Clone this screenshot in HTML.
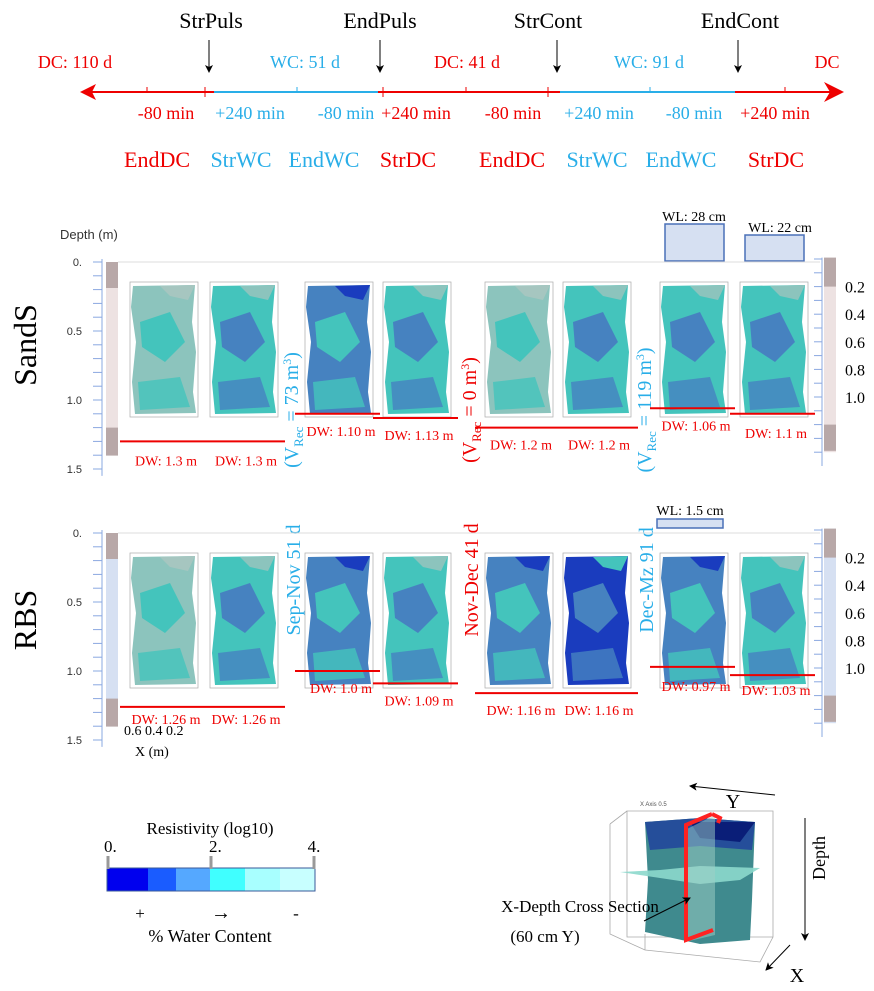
<!DOCTYPE html>
<html><head><meta charset="utf-8"><style>
html,body{margin:0;padding:0;background:#fff}
svg{display:block}
text{font-family:"Liberation Serif",serif}
.sans{font-family:"Liberation Sans",sans-serif}
</style></head><body>
<svg id="fig" width="874" height="991" viewBox="0 0 874 991" xmlns="http://www.w3.org/2000/svg">
<defs>
<marker id="ah" markerWidth="8" markerHeight="8" refX="7" refY="4" orient="auto"><path d="M0,0 L8,4 L0,8 L2,4 Z" fill="#000"/></marker>
<marker id="ahr" markerWidth="10" markerHeight="10" refX="9" refY="5" orient="auto"><path d="M0,0 L10,5 L0,10 L3,5 Z" fill="#e00"/></marker>
</defs>
<g>
<g font-size="22">
<text x="211" y="28" text-anchor="middle">StrPuls</text>
<text x="380" y="28" text-anchor="middle">EndPuls</text>
<text x="548" y="28" text-anchor="middle">StrCont</text>
<text x="740" y="28" text-anchor="middle">EndCont</text>
</g>
<g stroke="#000" stroke-width="1">
<line x1="209" y1="40" x2="209" y2="72" marker-end="url(#ah)"/>
<line x1="380" y1="40" x2="380" y2="72" marker-end="url(#ah)"/>
<line x1="557" y1="40" x2="557" y2="72" marker-end="url(#ah)"/>
<line x1="738" y1="40" x2="738" y2="72" marker-end="url(#ah)"/>
</g>
<line x1="90" y1="92" x2="842" y2="92" stroke="#e00" stroke-width="2" marker-end="url(#ahr)"/>
<path d="M80,92 L96,84 L92,92 L96,100 Z" fill="#e00"/>
<line x1="214" y1="92" x2="378" y2="92" stroke="#29aee8" stroke-width="2"/>
<line x1="560" y1="92" x2="735" y2="92" stroke="#29aee8" stroke-width="2"/>
<g stroke="#e00" stroke-width="1"><line x1="147" y1="87" x2="147" y2="92"/><line x1="205" y1="87" x2="205" y2="97"/><line x1="383" y1="87" x2="383" y2="97"/><line x1="548" y1="87" x2="548" y2="97"/><line x1="785" y1="87" x2="785" y2="92"/><line x1="466" y1="87" x2="466" y2="92"/></g>
<g stroke="#29aee8" stroke-width="1"><line x1="297" y1="87" x2="297" y2="92"/><line x1="650" y1="87" x2="650" y2="92"/></g>
<g font-size="18">
<text x="75" y="68" fill="#e00" text-anchor="middle">DC: 110 d</text>
<text x="305" y="68" fill="#29aee8" text-anchor="middle">WC: 51 d</text>
<text x="467" y="68" fill="#e00" text-anchor="middle">DC: 41 d</text>
<text x="649" y="68" fill="#29aee8" text-anchor="middle">WC: 91 d</text>
<text x="827" y="68" fill="#e00" text-anchor="middle">DC</text>
<text x="166" y="119" fill="#e00" text-anchor="middle">-80 min</text>
<text x="250" y="119" fill="#29aee8" text-anchor="middle">+240 min</text>
<text x="346" y="119" fill="#29aee8" text-anchor="middle">-80 min</text>
<text x="416" y="119" fill="#e00" text-anchor="middle">+240 min</text>
<text x="513" y="119" fill="#e00" text-anchor="middle">-80 min</text>
<text x="599" y="119" fill="#29aee8" text-anchor="middle">+240 min</text>
<text x="694" y="119" fill="#29aee8" text-anchor="middle">-80 min</text>
<text x="775" y="119" fill="#e00" text-anchor="middle">+240 min</text>
</g>
<g font-size="22">
<text x="157" y="167" fill="#e00" text-anchor="middle">EndDC</text>
<text x="241" y="167" fill="#29aee8" text-anchor="middle">StrWC</text>
<text x="324" y="167" fill="#29aee8" text-anchor="middle">EndWC</text>
<text x="408" y="167" fill="#e00" text-anchor="middle">StrDC</text>
<text x="512" y="167" fill="#e00" text-anchor="middle">EndDC</text>
<text x="597" y="167" fill="#29aee8" text-anchor="middle">StrWC</text>
<text x="681" y="167" fill="#29aee8" text-anchor="middle">EndWC</text>
<text x="776" y="167" fill="#e00" text-anchor="middle">StrDC</text>
</g>
</g>
<text x="60" y="239" font-size="13" class="sans" fill="#333">Depth (m)</text>
<text transform="translate(36,345) rotate(-90)" font-size="32" text-anchor="middle">SandS</text>
<text transform="translate(36,620) rotate(-90)" font-size="32" text-anchor="middle">RBS</text>
<g font-size="20">
<text transform="translate(298,410) rotate(-90)" fill="#29aee8" text-anchor="middle">(V<tspan font-size="13" dy="5">Rec</tspan><tspan dy="-5"> = 73 m</tspan><tspan font-size="12" dy="-7">3</tspan><tspan dy="7">)</tspan></text>
<text transform="translate(300,580) rotate(-90)" fill="#29aee8" text-anchor="middle">Sep-Nov  51 d</text>
<text transform="translate(476,410) rotate(-90)" fill="#e00" text-anchor="middle">(V<tspan font-size="13" dy="5">Rec</tspan><tspan dy="-5"> = 0 m</tspan><tspan font-size="12" dy="-7">3</tspan><tspan dy="7">)</tspan></text>
<text transform="translate(478,580) rotate(-90)" fill="#e00" text-anchor="middle">Nov-Dec  41 d</text>
<text transform="translate(651,410) rotate(-90)" fill="#29aee8" text-anchor="middle">(V<tspan font-size="13" dy="5">Rec</tspan><tspan dy="-5"> = 119 m</tspan><tspan font-size="12" dy="-7">3</tspan><tspan dy="7">)</tspan></text>
<text transform="translate(653,580) rotate(-90)" fill="#29aee8" text-anchor="middle">Dec-Mz  91 d</text>
</g>
<g>
<rect x="665" y="224" width="59" height="37" fill="#d6e0f2" stroke="#4a70b8" stroke-width="1.5"/>
<text x="694" y="221" font-size="14" text-anchor="middle">WL: 28 cm</text>
<rect x="745" y="235" width="59" height="26" fill="#d6e0f2" stroke="#4a70b8" stroke-width="1.5"/>
<text x="780" y="232" font-size="14" text-anchor="middle">WL: 22 cm</text>
<rect x="657" y="519" width="66" height="9" fill="#d6e0f2" stroke="#4a70b8" stroke-width="1.5"/>
<text x="690" y="515" font-size="14" text-anchor="middle">WL: 1.5 cm</text>
</g>
<g id="rows"></g>
<g>
<text x="210" y="834" font-size="17" text-anchor="middle">Resistivity (log10)</text>
<text x="104" y="852" font-size="17">0.</text>
<text x="209" y="852" font-size="17">2.</text>
<text x="314" y="852" font-size="17" text-anchor="middle">4.</text>
<rect x="107" y="868" width="41" height="23" fill="#0000ee"/>
<rect x="148" y="868" width="28" height="23" fill="#1a5cff"/>
<rect x="176" y="868" width="34" height="23" fill="#55a8ff"/>
<rect x="210" y="868" width="35" height="23" fill="#40ffff"/>
<rect x="245" y="868" width="35" height="23" fill="#a8ffff"/>
<rect x="280" y="868" width="35" height="23" fill="#c8ffff"/>
<rect x="107" y="868" width="208" height="23" fill="none" stroke="#3a5a9a"/>
<g stroke="#999" stroke-width="3"><line x1="108" y1="856" x2="108" y2="869"/><line x1="211" y1="856" x2="211" y2="869"/><line x1="314" y1="856" x2="314" y2="869"/></g>
<text x="140" y="919" font-size="17" text-anchor="middle">+</text>
<text x="221" y="919" font-size="20" text-anchor="middle">→</text>
<text x="296" y="919" font-size="17" text-anchor="middle">-</text>
<text x="210" y="942" font-size="18" text-anchor="middle">% Water Content</text>
</g>
<g>
<g stroke="#aaa" fill="none" stroke-width="0.8">
<path d="M627,811 L773,811 L773,937 L627,937 Z"/>
<path d="M610,824 L627,811 M610,824 L610,934 L645,950 L760,962 L773,937"/>
<path d="M645,950 L645,934"/>
</g>
<path d="M645,822 L700,818 L755,822 L752,900 L750,940 L700,944 L645,932 L648,880 Z" fill="#3f8a8e"/>
<path d="M645,822 L700,818 L755,822 L752,850 L700,846 L650,850 Z" fill="#254e9a"/>
<path d="M690,822 L755,822 L740,842 L700,838 Z" fill="#0a1e78"/>
<path d="M660,870 L700,866 L760,868 L740,880 L700,884 L620,872 Z" fill="#8cd8cc" opacity="0.9"/>
<path d="M685,830 L715,815 L715,935 L685,942 Z" fill="#9fcfc6" opacity="0.5"/>
<path d="M712,814 L720,818 L718,823 M712,814 L686,825 L686,940 L713,930" stroke="#f22" stroke-width="4" fill="none"/>
<text x="640" y="806" font-size="6" class="sans" fill="#555">X Axis 0.5</text>
<text x="580" y="912" font-size="17" text-anchor="middle">X-Depth Cross Section</text>
<text x="545" y="942" font-size="17" text-anchor="middle">(60 cm Y)</text>
<line x1="644" y1="921" x2="690" y2="898" stroke="#000" stroke-width="1" marker-end="url(#ah)"/>
<line x1="775" y1="795" x2="690" y2="786" stroke="#000" stroke-width="1" marker-end="url(#ah)"/>
<text x="733" y="808" font-size="20" text-anchor="middle">Y</text>
<line x1="805" y1="818" x2="805" y2="940" stroke="#000" stroke-width="1" marker-end="url(#ah)"/>
<text transform="translate(825,858) rotate(-90)" font-size="18" text-anchor="middle">Depth</text>
<line x1="790" y1="945" x2="766" y2="970" stroke="#000" stroke-width="1" marker-end="url(#ah)"/>
<text x="797" y="982" font-size="20" text-anchor="middle">X</text>
</g>
</svg>
<script>
// Depth-to-water values (m) for each panel, per site
const sandsDW = [1.3, 1.3, 1.10, 1.13, 1.2, 1.2, 1.06, 1.1];
const rbsDW = [1.26, 1.26, 1.0, 1.09, 1.16, 1.16, 0.97, 1.03];
const dwLabels = ["1.3","1.3","1.10","1.13","1.2","1.2","1.06","1.1"];
const rbsLabels = ["1.26","1.26","1.0","1.09","1.16","1.16","0.97","1.03"];
const depthTicks = [0, 0.5, 1.0, 1.5];
const depthTickLabels = ["0.", "0.5", "1.0", "1.5"];
const rightTicks = [0.2, 0.4, 0.6, 0.8, 1.0];
const rightTickLabels = ["0.2","0.4","0.6","0.8","1.0"];
// panel base colour class: 0 grey-teal, 1 teal, 2 mid-blue, 3 deep blue
const sandsTone = [0, 1, 2, 1, 0, 1, 1, 1];
const rbsTone = [0, 1, 2, 1, 2, 3, 2, 1];

const NS = "http://www.w3.org/2000/svg";
const panelX = [130, 210, 305, 383, 485, 563, 660, 740];
const palettes = [["#8cc4bd","#44c4bc","#a6c6c0"],["#44c4bc","#4682c0","#8cc4bd"],["#4682c0","#44c4bc","#1a3cbe"],["#1a3cbe","#4682c0","#44c4bc"]];
function mk(tag, attrs, parent){const e=document.createElementNS(NS,tag);for(const k in attrs)e.setAttribute(k,attrs[k]);parent.appendChild(e);return e;}
const rows = document.getElementById('rows');
function drawRow(y0, dws, labels, tones, rowName, blue, labOff){
  const yScale = d => y0 + 138*d;
  const ry = d => y0 - 3 + 138*d;
  const bar = blue ? '#d6e0f2' : '#ede2e2';
  const g = mk('g', {}, rows);
  
  
  mk('line',{x1:118,y1:y0,x2:820,y2:y0,stroke:'#ddd'},g);
  // left axis
  mk('line',{x1:102,y1:y0-3,x2:102,y2:yScale(1.55),stroke:'#8aa8e0'},g);
  mk('rect',{x:106,y:y0,width:12,height:138*1.4,fill:bar},g);
  mk('rect',{x:106,y:y0,width:12,height:26,fill:'#b8a8a8'},g);
  mk('rect',{x:106,y:yScale(1.2),width:12,height:28,fill:'#b8a8a8'},g);
  for(let i=0;i<=15;i++){mk('line',{x1:93,y1:yScale(i*0.1),x2:102,y2:yScale(i*0.1),stroke:'#8aa8e0'},g);}
  depthTicks.forEach((d,i)=>{const t=mk('text',{x:82,y:yScale(d)+4,'font-size':11,'text-anchor':'end',class:'sans',fill:'#333'},g);t.textContent=depthTickLabels[i];
    
    });
  // right axis
  mk('line',{x1:822,y1:ry(-0.01),x2:822,y2:ry(1.5),stroke:'#8aa8e0'},g);
  mk('rect',{x:824,y:ry(-0.01),width:12,height:138*1.41,fill:bar},g);
  mk('rect',{x:824,y:ry(-0.01),width:12,height:138*0.21,fill:'#b8a8a8'},g);
  mk('rect',{x:824,y:ry(1.2),width:12,height:138*0.19,fill:'#b8a8a8'},g);
  for(let i=0;i<=14;i++){mk('line',{x1:814,y1:ry(i*0.1),x2:822,y2:ry(i*0.1),stroke:'#8aa8e0'},g);}
  rightTicks.forEach((d,i)=>{const t=mk('text',{x:845,y:ry(d)+6,'font-size':16},g);t.textContent=rightTickLabels[i];
    
    });
  panelX.forEach((x,i)=>{
    const pg = mk('g',{},g);
    
    
    const pal = palettes[tones[i]];
    const top=y0+20, h=135, w=68;
    mk('rect',{x:x,y:top,width:w,height:h,fill:'none',stroke:'#aaa','stroke-width':0.7},pg);
    mk('path',{d:`M${x+3},${top+4} L${x+w-3},${top+3} L${x+w-6},${top+40} L${x+w-2},${top+70} L${x+w-5},${top+110} L${x+w-2},${top+h-4} L${x+5},${top+h-3} L${x+2},${top+100} L${x+6},${top+60} L${x+1},${top+25} Z`,fill:pal[0]},pg);
    mk('path',{d:`M${x+10},${top+40} L${x+40},${top+30} L${x+55},${top+60} L${x+35},${top+80} L${x+12},${top+65} Z`,fill:pal[1]},pg);
    mk('path',{d:`M${x+30},${top+4} L${x+w-3},${top+3} L${x+w-10},${top+18} L${x+40},${top+14} Z`,fill:pal[2]},pg);
    mk('path',{d:`M${x+8},${top+100} L${x+50},${top+95} L${x+60},${top+125} L${x+10},${top+128} Z`,fill:pal[1],opacity:0.8},pg);
  });
  const pairs=[[0,1],[2],[3],[4,5],[6],[7]];
  pairs.forEach(p=>{
    const x1=panelX[p[0]]-10, x2=panelX[p[p.length-1]]+75;
    const ln=mk('line',{x1:x1,y1:yScale(dws[p[0]]),x2:x2,y2:yScale(dws[p[0]]),stroke:'#e00','stroke-width':2},g);
    
    
  });
  panelX.forEach((x,i)=>{
    const ty = yScale(dws[i]) + labOff[i];
    const t=mk('text',{x:x+36,y:ty,'font-size':14,fill:'#e00','text-anchor':'middle'},g);
    t.textContent='DW: '+labels[i]+' m';
    
    
  });
}
drawRow(262, sandsDW, dwLabels, sandsTone, 'sands', false, [24,24,22,22,22,22,22,24]);
drawRow(533, rbsDW, rbsLabels, rbsTone, 'rbs', true, [17,17,22,22,22,22,24,20]);
const xl = mk('text',{x:124,y:735,'font-size':14},rows);xl.textContent='0.6  0.4  0.2';


const xt = mk('text',{x:135,y:756,'font-size':14},rows);xt.textContent='X (m)';


</script>
</body></html>
